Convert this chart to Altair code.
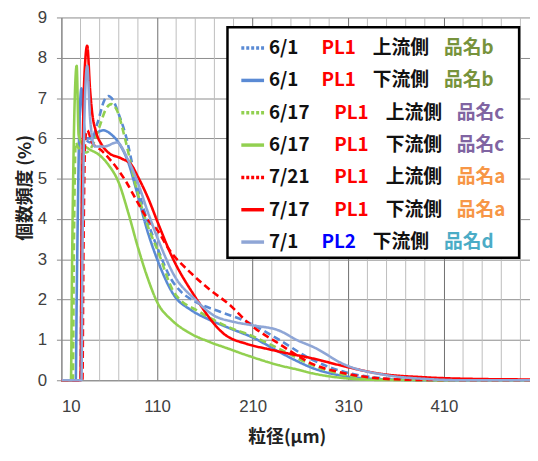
import altair as alt
import pandas as pd

# ---- data ----
series_names = ["6/1 PL1 上流側", "6/1 PL1 下流側", "6/17 PL1 上流側", "6/17 PL1 下流側",
                "7/21 PL1 上流側", "7/17 PL1 下流側", "7/1 PL2 下流側"]
line_colors = ["#5A8AD4", "#5A8AD4", "#92D050", "#92D050", "#FF0000", "#FF0000", "#8FA6D6"]
dashed = [True, False, True, False, True, False, False]

s1_x = [10, 30, 31, 33, 35, 40, 48, 55, 59, 64, 70, 77, 88, 100, 111, 125, 135, 150, 176, 204, 238, 273, 307, 341, 380, 420, 500]
s1_y = [0, 0, 3.0, 6.1, 6.0, 5.9, 6.4, 6.95, 7.05, 6.95, 6.6, 6.1, 4.95, 3.95, 3.25, 2.5, 2.2, 1.95, 1.7, 1.45, 1.0, 0.5, 0.2, 0.06, 0.01, 0, 0]

s2_x = [10, 25, 26, 29, 31, 33, 36, 42, 48, 54, 62, 71, 80, 88, 100, 111, 128, 145, 163, 185, 211, 238, 256, 273, 307, 341, 400, 500]
s2_y = [0, 0, 2.0, 6.5, 7.24, 6.5, 6.0, 6.0, 6.15, 6.2, 6.1, 5.85, 5.4, 4.75, 3.7, 2.95, 2.1, 1.75, 1.52, 1.3, 1.05, 0.7, 0.48, 0.3, 0.1, 0.03, 0, 0]

s3_x = [10, 22, 23, 25, 27, 30, 36, 42, 50, 56, 62, 68, 77, 88, 100, 111, 128, 155, 190, 204, 238, 273, 307, 340, 380, 500]
s3_y = [0, 0, 3.0, 5.9, 5.8, 5.7, 5.65, 5.8, 6.3, 6.7, 6.85, 6.7, 5.95, 4.8, 3.85, 3.2, 2.17, 1.69, 1.27, 1.15, 0.78, 0.37, 0.13, 0.03, 0, 0]

s4_x = [10, 20, 21, 24, 26, 28, 31, 38, 49, 59, 70, 80, 90, 100, 111, 125, 142, 165, 185, 204, 238, 256, 273, 307, 340, 500]
s4_y = [0, 0, 2.5, 7.0, 7.8, 6.1, 5.9, 5.75, 5.6, 5.35, 4.9, 4.15, 3.3, 2.55, 1.9, 1.5, 1.2, 0.95, 0.78, 0.62, 0.37, 0.27, 0.17, 0.05, 0.01, 0]

s5_x = [10, 32, 33, 35, 37, 42, 52, 60, 70, 77, 90, 100, 111, 121, 145, 165, 187, 204, 238, 273, 307, 341, 380, 500]
s5_y = [0, 0, 3.0, 6.0, 6.2, 5.9, 5.7, 5.5, 5.2, 4.95, 4.4, 4.0, 3.7, 3.3, 2.67, 2.25, 1.85, 1.45, 0.9, 0.4, 0.17, 0.05, 0.01, 0]

s6_x = [10, 30, 31, 34, 37, 40, 42, 46, 52, 59, 73, 83, 90, 101, 111, 125, 149, 180, 204, 225, 238, 273, 307, 341, 393, 450, 500]
s6_y = [0, 0, 3.0, 7.5, 8.3, 7.2, 6.67, 6.18, 5.85, 5.65, 5.5, 5.35, 5.05, 4.5, 3.9, 3.1, 2.1, 1.15, 0.9, 0.78, 0.71, 0.54, 0.34, 0.17, 0.07, 0.03, 0.02]

s7_x = [10, 31, 32, 35, 37, 40, 45, 55, 68, 80, 90, 100, 111, 128, 150, 170, 190, 211, 238, 256, 273, 307, 349, 393, 430, 500]
s7_y = [0, 0, 3.0, 7.2, 7.8, 6.5, 5.8, 5.8, 5.9, 5.45, 4.9, 4.2, 3.5, 2.6, 2.0, 1.6, 1.45, 1.36, 1.23, 1.0, 0.83, 0.38, 0.13, 0.03, 0, 0]

all_x = [s1_x, s2_x, s3_x, s4_x, s5_x, s6_x, s7_x]
all_y = [s1_y, s2_y, s3_y, s4_y, s5_y, s6_y, s7_y]

x_major = [10, 110, 210, 310, 410]
x_minor = [30, 50, 70, 90, 130, 150, 170, 190, 230, 250, 270, 290, 330, 350, 370, 390, 430, 450, 470, 490]
y_ticks = list(range(10))

leg_dates = ["6/1", "6/1", "6/17", "6/17", "7/21", "7/17", "7/1"]
leg_pl = ["PL1", "PL1", "PL1", "PL1", "PL1", "PL1", "PL2"]
leg_side = ["上流側", "下流側", "上流側", "下流側", "上流側", "下流側", "下流側"]
leg_prod = ["品名b", "品名b", "品名c", "品名c", "品名a", "品名a", "品名d"]
pl_colors = {"PL1": "#FF0000", "PL2": "#0000FF"}
prod_colors = {"品名a": "#F79646", "品名b": "#77933C", "品名c": "#8064A2", "品名d": "#4BACC6"}

# ---- build tables ----
rows = []
for name, xs, ys in zip(series_names, all_x, all_y):
    for xv, yv in zip(xs, ys):
        rows.append({"series": name, "x": xv, "y": yv})
df = pd.DataFrame(rows)

W, H = 474, 367
FONT_CJK = "Noto Sans CJK JP"
FONT_NUM = "Liberation Sans Narrow, Liberation Sans, sans-serif"

xscale = alt.Scale(domain=[10, 500], nice=False, zero=False)
yscale = alt.Scale(domain=[0, 9], nice=False, zero=True)

minor = alt.Chart(pd.DataFrame({"x": x_minor})).mark_rule(color="#BDBDBD", strokeWidth=1).encode(
    x=alt.X("x:Q", scale=xscale)
)

lines = alt.Chart(df).mark_line(strokeWidth=2.6, interpolate="monotone").encode(
    x=alt.X("x:Q", scale=xscale,
            axis=alt.Axis(values=x_major, title="粒径(μm)", grid=True, gridColor="#6E6E6E",
                          gridWidth=1, ticks=False, labelPadding=19, labelFontSize=17,
                          labelFont=FONT_NUM, labelColor="#404040", domainColor="#8C8C8C",
                          titleFont=FONT_CJK, titleFontSize=18, titleFontWeight="bold",
                          titleColor="#222222", titleX=228, titleY=58, titleBaseline="middle")),
    y=alt.Y("y:Q", scale=yscale,
            axis=alt.Axis(values=y_ticks, title="個数頻度 (%)", grid=True, gridColor="#8C8C8C",
                          gridWidth=1, tickSize=5, tickColor="#8C8C8C", labelPadding=10,
                          labelFontSize=17, labelFont=FONT_NUM, labelColor="#404040",
                          domainColor="#8C8C8C", titleFont=FONT_CJK, titleFontSize=18,
                          titleFontWeight="bold", titleColor="#222222", titleX=-36, titleY=172,
                          titleBaseline="middle", titleAlign="center")),
    color=alt.Color("series:N", scale=alt.Scale(domain=series_names, range=line_colors), legend=None),
    strokeDash=alt.StrokeDash("series:N",
                              scale=alt.Scale(domain=series_names,
                                              range=[[7, 4] if d else [1, 0] for d in dashed]),
                              legend=None),
    order=alt.Order("x:Q"),
)

# ---- custom legend ----
leg_rows = []
for i, (d, p, s, pr) in enumerate(zip(leg_dates, leg_pl, leg_side, leg_prod)):
    shift = 13 if len(d) > 3 else 0
    ly = 31 + i * 32.7
    leg_rows.append({"row": i, "text": d, "lx": 210, "ly": ly, "col": "#111111", "dash": dashed[i], "lc": line_colors[i]})
    leg_rows.append({"row": i, "text": p, "lx": 263 + shift, "ly": ly, "col": pl_colors[p], "dash": dashed[i], "lc": line_colors[i]})
    leg_rows.append({"row": i, "text": s, "lx": 315 + shift, "ly": ly, "col": "#111111", "dash": dashed[i], "lc": line_colors[i]})
    leg_rows.append({"row": i, "text": pr, "lx": 387 + shift, "ly": ly, "col": prod_colors[pr], "dash": dashed[i], "lc": line_colors[i]})
leg_df = pd.DataFrame(leg_rows)
sample_df = leg_df.drop_duplicates("row")

box = alt.Chart(pd.DataFrame({"a": [0]})).mark_rect(fill="white", stroke="black", strokeWidth=2.5).encode(
    x=alt.value(168), x2=alt.value(463), y=alt.value(10), y2=alt.value(243)
)

leg_text = alt.Chart(leg_df).mark_text(align="left", baseline="middle", font=FONT_CJK,
                                       fontSize=19, fontWeight="bold").encode(
    x=alt.X("lx:Q", scale=None, axis=None),
    y=alt.Y("ly:Q", scale=None, axis=None),
    text="text:N",
    color=alt.Color("col:N", scale=None),
)

samp_solid = alt.Chart(sample_df[~sample_df["dash"]]).mark_rule(strokeWidth=3.5).encode(
    x=alt.value(182), x2=alt.value(205),
    y=alt.Y("ly:Q", scale=None, axis=None),
    color=alt.Color("lc:N", scale=None),
)
samp_dot = alt.Chart(sample_df[sample_df["dash"]]).mark_rule(strokeWidth=3.5, strokeDash=[3, 2]).encode(
    x=alt.value(182), x2=alt.value(205),
    y=alt.Y("ly:Q", scale=None, axis=None),
    color=alt.Color("lc:N", scale=None),
)

chart = alt.layer(minor, lines, box, samp_solid, samp_dot, leg_text).properties(
    width=W, height=H,
    autosize=alt.AutoSizeParams(type="none"),
    padding={"left": 54, "top": 7, "right": 0, "bottom": 70},
    background="white",
).configure_view(stroke=None)

chart.save("out.html", embed_options={"renderer": "svg", "actions": False})
